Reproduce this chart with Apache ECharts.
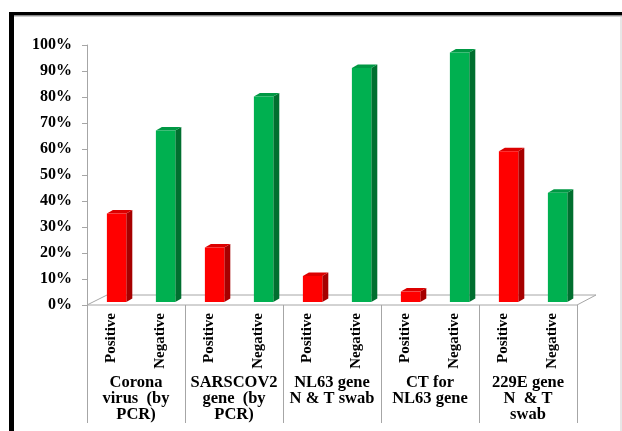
<!DOCTYPE html>
<html>
<head>
<meta charset="utf-8">
<script src="https://cdn.jsdelivr.net/npm/echarts@6/dist/echarts.min.js"></script>
<style>
  html, body { margin: 0; padding: 0; background: #ffffff; }
  #chart { width: 622px; height: 431px; }
</style>
</head>
<body>
<div id="chart"></div>
<script>
// Test groups and the share of positive / negative results in each (percent)
const groups = [
  'Corona\nvirus  (by\nPCR)',
  'SARSCOV2\ngene  (by\nPCR)',
  'NL63 gene\nN & T swab',
  'CT for\nNL63 gene',
  '229E gene\nN  & T\nswab'
];
const results = ['Positive', 'Negative'];
const positive = [34, 21, 10, 4, 58];
const negative = [66, 79, 90, 96, 42];
const yTicks = [0, 10, 20, 30, 40, 50, 60, 70, 80, 90, 100];

const FONT = "'Liberation Serif', 'Times New Roman', serif";

// One slot per result inside each group: Positive, Negative, Positive, ...
const slots = [];
const bars = [];
groups.forEach(function (g, gi) {
  results.forEach(function (r, ri) {
    const idx = slots.length;
    slots.push(r);
    bars.push([idx, ri === 0 ? positive[gi] : negative[gi], ri]);
  });
});

// Face colours for the extruded bars: [front, top, side]
const faces = [
  ['#ff0000', '#dc0000', '#a60000'],
  ['#00b050', '#009844', '#006f2f']
];
const DEPTH_X = 6, DEPTH_Y = 3.5;

function renderBar(params, api) {
  const idx = api.value(0);
  const val = api.value(1);
  const kind = api.value(2);
  const top = api.coord([idx, val]);
  const base = api.coord([idx, 0]);
  const bw = api.size([1, 0])[0];
  const w = bw * 0.396;
  const left = top[0] - bw * 0.094;
  const right = left + w;
  const yTop = top[1] - 3;
  const yBot = base[1] - 3;
  const c = faces[kind];
  return {
    type: 'group',
    children: [
      {
        type: 'polygon',
        shape: { points: [[right, yTop], [right + DEPTH_X, yTop - DEPTH_Y], [right + DEPTH_X, yBot - DEPTH_Y], [right, yBot]] },
        style: { fill: c[2] }
      },
      {
        type: 'polygon',
        shape: { points: [[left, yTop], [left + DEPTH_X, yTop - DEPTH_Y], [right + DEPTH_X, yTop - DEPTH_Y], [right, yTop]] },
        style: { fill: c[1] }
      },
      {
        type: 'rect',
        shape: { x: left, y: yTop, width: w, height: yBot - yTop },
        style: { fill: c[0] }
      }
    ]
  };
}

// Floor of the plot: a flat parallelogram under the bars
function renderFloor(params, api) {
  const cs = params.coordSys;
  const x0 = cs.x, x1 = cs.x + cs.width, y0 = cs.y + cs.height;
  return {
    type: 'polygon',
    shape: { points: [[x0, y0], [x1, y0], [x1 + 19, y0 - 10], [x0 + 20, y0 - 10]] },
    style: { fill: '#ffffff', stroke: '#a6a6a6', lineWidth: 1 }
  };
}

const chart = echarts.init(document.getElementById('chart'), null, { renderer: 'canvas' });
chart.setOption({
  animation: false,
  backgroundColor: '#ffffff',
  grid: { left: 87, right: 45, top: 45, bottom: 126, containLabel: false, outerBoundsMode: 'none' },
  xAxis: [
    {
      type: 'category',
      data: slots,
      axisLine: { show: false },
      axisTick: { show: false },
      axisLabel: {
        interval: 0, rotate: 90, margin: 8,
        fontFamily: FONT, fontWeight: 'bold', fontSize: 15, color: '#000'
      }
    },
    {
      type: 'category',
      data: groups,
      position: 'bottom',
      axisLine: { show: false },
      axisTick: { show: true, length: 118, lineStyle: { color: '#a6a6a6', width: 1 } },
      axisLabel: {
        interval: 0, margin: 70,
        fontFamily: FONT, fontWeight: 'bold', fontSize: 16.5, lineHeight: 16, color: '#000', align: 'center'
      }
    }
  ],
  yAxis: {
    type: 'value',
    min: yTicks[0],
    max: yTicks[yTicks.length - 1],
    interval: yTicks[1] - yTicks[0],
    axisLine: { show: true, lineStyle: { color: '#a6a6a6' } },
    axisTick: { show: true, length: 5, lineStyle: { color: '#a6a6a6' } },
    splitLine: { show: false },
    axisLabel: {
      margin: 15,
      formatter: '{value}%',
      fontFamily: FONT, fontWeight: 'bold', fontSize: 16, color: '#000'
    }
  },
  series: [
    {
      type: 'custom',
      renderItem: renderFloor,
      data: [[0, 0]],
      silent: true,
      z: 1
    },
    {
      type: 'custom',
      renderItem: renderBar,
      data: bars,
      encode: { x: 0, y: 1 },
      z: 2
    }
  ],
  graphic: [
    { type: 'rect', shape: { x: 9, y: 12, width: 613, height: 3.5 }, style: { fill: '#000' } },
    { type: 'rect', shape: { x: 9, y: 15.5, width: 613, height: 1 }, style: { fill: '#9a9a9a' } },
    { type: 'rect', shape: { x: 9, y: 12, width: 5, height: 419 }, style: { fill: '#000' } },
    { type: 'rect', shape: { x: 620.5, y: 16, width: 1, height: 415 }, style: { fill: '#d0d0d0' } }
  ]
});
</script>
</body>
</html>
